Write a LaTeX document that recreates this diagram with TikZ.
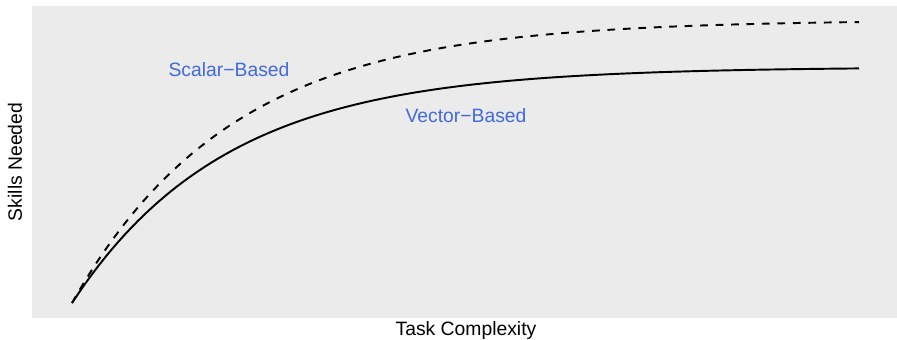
\documentclass[tikz,border=0pt]{standalone}
\usepackage{fontspec}
\setmainfont{Liberation Sans}
\usepackage{tikz}
\definecolor{panel}{HTML}{EBEBEB}
\definecolor{royal}{HTML}{4169E1}

\begin{document}
\begin{tikzpicture}[x=.02cm,y=.02cm,
    lbl/.style={royal,font=\fontsize{11}{13}\selectfont},
    ttl/.style={font=\fontsize{11}{13}\selectfont}]
  \useasboundingbox (0,0) rectangle (897,340);
  \fill[panel] (32,22) rectangle (897,334);
  \draw[line width=1.1pt,domain=72:859,samples=120] plot (\x,{37+236*(1-exp(-0.00648*(\x-72)))});
  \draw[line width=1.1pt,dash pattern=on 4.4pt off 4.4pt,domain=72:859,samples=120] plot (\x,{37+283*(1-exp(-0.00626*(\x-72)))});
  \node[lbl] (scalar) at (229,270) {Scalar−Based};
  \node[lbl] (vector) at (466,224) {Vector−Based};
  \node[ttl] (xlab) at (466,9) {Task Complexity};
  \node[ttl,rotate=90] (ylab) at (15,178) {Skills Needed};
\end{tikzpicture}
\end{document}
